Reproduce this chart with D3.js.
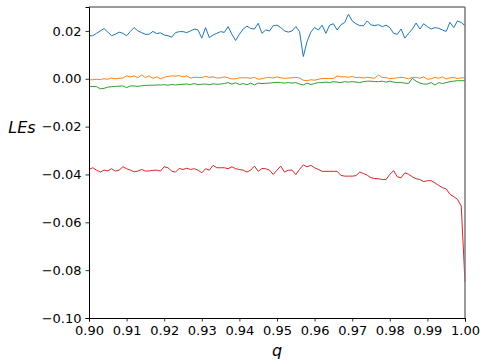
<!DOCTYPE html>
<html><head><meta charset="utf-8">
<script src="https://cdn.jsdelivr.net/npm/d3@7"></script>
<style>body{margin:0;background:#fff}svg{display:block}text{font-family:"DejaVu Sans",sans-serif}</style>
</head><body>
<svg id="c" width="493" height="363"></svg>
<script>
const qStart = 0.90, qStep = 0.001;
const blue = [0.0180,0.0180,0.0190,0.0200,0.0210,0.0195,0.0180,0.0186,0.0195,0.0190,0.0180,0.0198,0.0214,0.0200,0.0193,0.0186,0.0186,0.0198,0.0189,0.0192,0.0183,0.0180,0.0174,0.0193,0.0197,0.0197,0.0193,0.0200,0.0208,0.0204,0.0170,0.0214,0.0172,0.0183,0.0190,0.0197,0.0194,0.0218,0.0186,0.0160,0.0186,0.0208,0.0220,0.0210,0.0208,0.0232,0.0190,0.0204,0.0200,0.0222,0.0224,0.0214,0.0200,0.0195,0.0200,0.0218,0.0197,0.0093,0.0156,0.0195,0.0214,0.0204,0.0224,0.0190,0.0224,0.0230,0.0204,0.0226,0.0235,0.0270,0.0242,0.0230,0.0222,0.0222,0.0242,0.0225,0.0222,0.0226,0.0218,0.0224,0.0214,0.0190,0.0186,0.0208,0.0170,0.0190,0.0208,0.0233,0.0208,0.0230,0.0218,0.0208,0.0214,0.0211,0.0204,0.0198,0.0236,0.0214,0.0242,0.0235,0.0222];
const orange = [-0.0004,-0.0004,-0.0002,-0.0003,0.0000,-0.0002,0.0003,0.0000,0.0002,0.0003,0.0012,0.0008,0.0012,0.0004,0.0016,0.0005,0.0012,0.0002,0.0008,0.0000,0.0006,0.0010,0.0012,0.0011,0.0013,0.0008,0.0012,0.0003,0.0006,0.0006,0.0005,0.0010,0.0006,0.0008,0.0003,0.0004,0.0008,0.0004,-0.0001,0.0000,0.0004,0.0004,0.0004,0.0002,0.0006,-0.0002,0.0000,0.0004,0.0006,0.0003,0.0008,0.0004,0.0002,0.0003,0.0004,0.0006,0.0003,-0.0006,-0.0008,-0.0004,-0.0006,-0.0002,0.0001,0.0001,0.0001,0.0001,0.0012,0.0008,0.0008,0.0006,0.0010,0.0005,0.0006,0.0003,0.0006,0.0004,0.0002,0.0016,0.0005,0.0005,0.0000,0.0002,0.0004,0.0006,0.0004,0.0000,0.0006,0.0006,0.0002,0.0008,-0.0002,0.0000,0.0006,0.0002,0.0008,-0.0001,0.0004,0.0005,0.0001,0.0004,0.0003];
const green = [-0.0032,-0.0032,-0.0033,-0.0042,-0.0040,-0.0035,-0.0033,-0.0032,-0.0031,-0.0030,-0.0037,-0.0030,-0.0030,-0.0032,-0.0029,-0.0028,-0.0027,-0.0027,-0.0026,-0.0026,-0.0025,-0.0027,-0.0024,-0.0026,-0.0024,-0.0023,-0.0022,-0.0024,-0.0020,-0.0025,-0.0023,-0.0022,-0.0025,-0.0021,-0.0023,-0.0022,-0.0020,-0.0016,-0.0022,-0.0017,-0.0024,-0.0020,-0.0025,-0.0018,-0.0026,-0.0018,-0.0020,-0.0019,-0.0018,-0.0016,-0.0015,-0.0016,-0.0018,-0.0016,-0.0018,-0.0016,-0.0022,-0.0026,-0.0018,-0.0024,-0.0020,-0.0016,-0.0016,-0.0014,-0.0016,-0.0012,-0.0014,-0.0016,-0.0012,-0.0014,-0.0012,-0.0014,-0.0016,-0.0012,-0.0010,-0.0010,-0.0012,-0.0012,-0.0010,-0.0014,-0.0010,-0.0014,-0.0016,-0.0016,-0.0018,-0.0020,0.0002,-0.0010,-0.0018,-0.0022,-0.0022,-0.0016,-0.0026,-0.0016,-0.0020,-0.0016,-0.0012,-0.0010,-0.0008,-0.0008,-0.0008];
const red = [-0.0379,-0.0372,-0.0382,-0.0390,-0.0382,-0.0385,-0.0376,-0.0386,-0.0382,-0.0368,-0.0376,-0.0382,-0.0389,-0.0386,-0.0379,-0.0386,-0.0385,-0.0383,-0.0382,-0.0386,-0.0368,-0.0372,-0.0386,-0.0390,-0.0375,-0.0379,-0.0374,-0.0379,-0.0376,-0.0382,-0.0393,-0.0376,-0.0382,-0.0362,-0.0372,-0.0372,-0.0372,-0.0376,-0.0368,-0.0376,-0.0379,-0.0382,-0.0390,-0.0382,-0.0365,-0.0387,-0.0375,-0.0376,-0.0382,-0.0400,-0.0382,-0.0365,-0.0390,-0.0382,-0.0382,-0.0400,-0.0379,-0.0360,-0.0368,-0.0362,-0.0372,-0.0379,-0.0387,-0.0387,-0.0387,-0.0387,-0.0387,-0.0404,-0.0407,-0.0407,-0.0407,-0.0405,-0.0390,-0.0396,-0.0403,-0.0414,-0.0417,-0.0418,-0.0421,-0.0421,-0.0400,-0.0384,-0.0410,-0.0414,-0.0393,-0.0399,-0.0410,-0.0418,-0.0421,-0.0430,-0.0426,-0.0426,-0.0435,-0.0446,-0.0455,-0.0460,-0.0483,-0.0493,-0.0504,-0.0532,-0.0850];
const seriesList = [blue, orange, green, red];
const seriesColors = ["#1f77b4","#ff7f0e","#2ca02c","#d62728"];
const xTicks = [0.90,0.91,0.92,0.93,0.94,0.95,0.96,0.97,0.98,0.99,1.00];
const xTickLabels = ["0.90","0.91","0.92","0.93","0.94","0.95","0.96","0.97","0.98","0.99","1.00"];
const yTicks = [0.02,0.00,-0.02,-0.04,-0.06,-0.08,-0.10];
const yTickLabels = ["0.02","0.00","\u22120.02","\u22120.04","\u22120.06","\u22120.08","\u22120.10"];

const L = 89, R = 465, T = 7, B = 318;
const svg = d3.select("#c");
const x = d3.scaleLinear().domain([0.90, 1.00]).range([L, R]);
const y = d3.scaleLinear().domain([-0.10, 0.03]).range([B, T]);

const line = d3.line().x((d, i) => x(qStart + i * qStep)).y(d => y(d));
const g = svg.append("g");
seriesList.forEach((s, k) => {
  g.append("path").datum(s).attr("d", line).attr("fill", "none")
    .attr("stroke", seriesColors[k]).attr("stroke-width", 1).attr("stroke-linejoin", "round");
});

// spines
svg.append("line").attr("x1", L).attr("x2", R).attr("y1", T).attr("y2", T).attr("stroke", "#7a7a7a").attr("stroke-width", 1.5);
svg.append("line").attr("x1", R).attr("x2", R).attr("y1", T).attr("y2", B).attr("stroke", "#7a7a7a").attr("stroke-width", 1.5);

const xa = svg.append("g").attr("transform", `translate(0,${B})`)
  .call(d3.axisBottom(x).tickValues(xTicks).tickFormat((d, i) => xTickLabels[i]).tickSize(3.5).tickPadding(4.5));
const ya = svg.append("g").attr("transform", `translate(${L},0)`)
  .call(d3.axisLeft(y).tickValues(yTicks).tickFormat((d, i) => yTickLabels[i]).tickSize(3.5).tickPadding(4));
[xa, ya].forEach(a => {
  a.select(".domain").attr("stroke", "#000").attr("stroke-width", 1);
  a.selectAll(".tick line").attr("stroke", "#000").attr("stroke-width", 0.8);
  a.selectAll(".tick text").attr("fill", "#000").style("font-size", "13px").style("font-family", "DejaVu Sans");
});

svg.append("text").attr("x", (L + R) / 2).attr("y", 356).attr("text-anchor", "middle")
  .style("font-size", "16px").style("font-style", "italic").text("q");
svg.append("text").attr("x", 22).attr("y", 133).attr("text-anchor", "middle")
  .style("font-size", "16px").style("font-style", "italic").text("LEs");
</script>
</body></html>
